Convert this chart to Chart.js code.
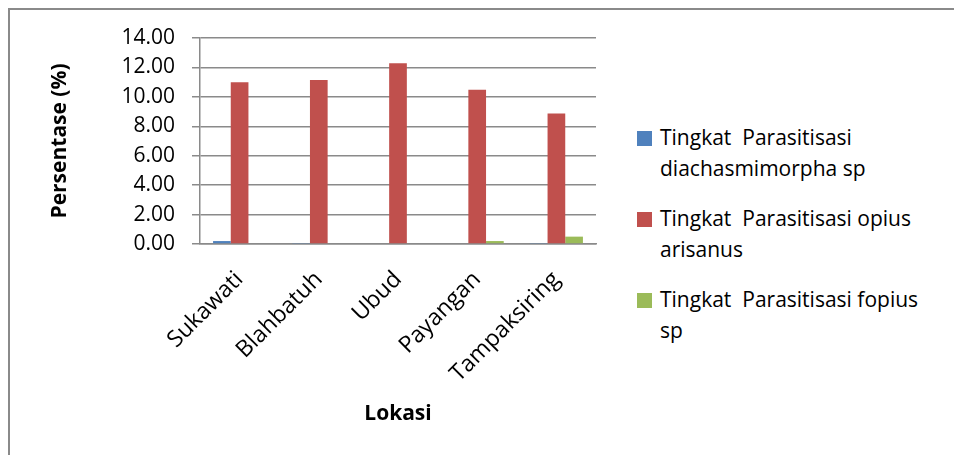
<!DOCTYPE html>
<html>
<head>
<meta charset="utf-8">
<script src="https://cdn.jsdelivr.net/npm/chart.js@4/dist/chart.umd.min.js"></script>
<style>
  html, body { margin: 0; padding: 0; background: #fff; }
  #wrap { position: relative; width: 954px; height: 455px; overflow: hidden; font-family: "Open Sans", sans-serif; }
  #frame { position: absolute; left: 8px; top: 8px; width: 1000px; height: 500px; border-left: 2px solid #8a8a8a; border-top: 2px solid #8a8a8a; }
  #box { position: absolute; left: 0; top: 0; width: 620px; height: 455px; }
  #legend { position: absolute; left: 637px; top: 122px; width: 310px; }
  .item { display: flex; align-items: flex-start; margin-bottom: 19px; }
  .swatch { width: 15px; height: 15px; margin-top: 9px; margin-right: 8px; flex: none; }
  .text { font-size: 21px; line-height: 31px; color: #000; }
</style>
</head>
<body>
<div id="wrap">
  <div id="frame"></div>
  <div id="box"><canvas id="myChart"></canvas></div>
  <div id="legend"></div>
</div>
<script>
const lokasi = ['Sukawati', 'Blahbatuh', 'Ubud', 'Payangan', 'Tampaksiring'];
const seriesNames = [
    ['Tingkat\u00a0 Parasitisasi', 'diachasmimorpha sp'],
    ['Tingkat\u00a0 Parasitisasi opius', 'arisanus'],
    ['Tingkat\u00a0 Parasitisasi fopius', 'sp']
];
const diachasmimorpha = [0.20, 0.07, 0.00, 0.00, 0.07];
const opiusArisanus = [11.00, 11.14, 12.28, 10.49, 8.87];
const fopius = [0.05, 0.05, 0.05, 0.20, 0.50];
const colors = ['#4F81BD', '#C0504D', '#9BBB59'];

const gridColor = '#8a8a8a';
const font = { family: '"Open Sans", sans-serif', size: 21 };
const xFont = { family: '"Open Sans", sans-serif', size: 23 };
const boldFont = { family: '"Open Sans", sans-serif', size: 21, weight: 'bold' };

const datasets = [diachasmimorpha, opiusArisanus, fopius].map((values, i) => ({
    label: seriesNames[i].join(' '),
    data: values,
    backgroundColor: colors[i],
    borderWidth: 0,
    categoryPercentage: 0.67,
    barPercentage: 1.0
}));

const ctx = document.getElementById('myChart').getContext('2d');
const myChart = new Chart(ctx, {
    type: 'bar',
    data: { labels: lokasi, datasets: datasets },
    options: {
        responsive: true,
        maintainAspectRatio: false,
        animation: false,
        layout: { padding: { left: 43, top: 38, right: 24, bottom: 24 } },
        plugins: { legend: { display: false }, tooltip: { enabled: false } },
        scales: {
            x: {
                grid: { display: false, drawTicks: false },
                border: { color: gridColor, width: 1.5 },
                ticks: { font: xFont, color: '#000', maxRotation: 45, minRotation: 45, padding: 22 },
                title: { display: true, text: 'Lokasi', font: boldFont, color: '#000', padding: { top: 14 } },
                afterFit: scale => { scale.height = 187; }
            },
            y: {
                min: 0,
                max: 14,
                ticks: { stepSize: 2, font: font, color: '#000', padding: 17, callback: v => v.toFixed(2) },
                grid: { color: gridColor, lineWidth: 1.5, tickLength: 8 },
                border: { color: gridColor, width: 1.5 },
                title: { display: true, text: 'Persentase (%)', font: boldFont, color: '#000', padding: { bottom: 0 } },
                afterFit: scale => { scale.width = 157; }
            }
        }
    }
});

// legend with two-line labels, built from the same series
const legend = document.getElementById('legend');
seriesNames.forEach((lines, i) => {
    const item = document.createElement('div');
    item.className = 'item';
    const sw = document.createElement('div');
    sw.className = 'swatch';
    sw.style.background = colors[i];
    const txt = document.createElement('div');
    txt.className = 'text';
    txt.innerHTML = lines.join('<br>');
    item.appendChild(sw);
    item.appendChild(txt);
    legend.appendChild(item);
});
</script>
</body>
</html>
